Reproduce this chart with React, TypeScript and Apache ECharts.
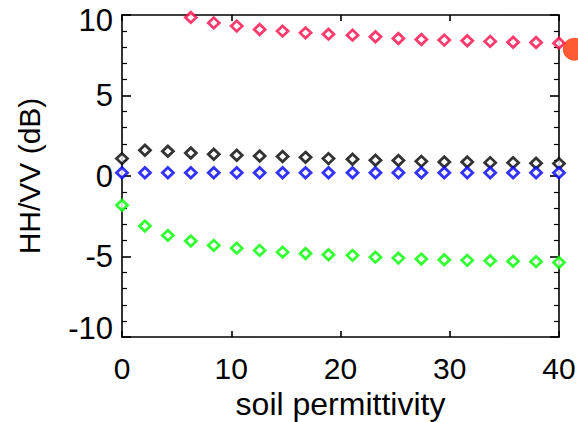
import React, { useEffect, useRef } from "react";
import * as echarts from "echarts";

const xValues = [0, 2.1, 4.2, 6.3, 8.4, 10.5, 12.6, 14.7, 16.8, 18.9, 21.1, 23.2, 25.3, 27.4, 29.5, 31.6, 33.7, 35.8, 37.9, 40];
const redValues = [null, null, 10.4, 9.85, 9.51, 9.31, 9.1, 9.0, 8.89, 8.81, 8.75, 8.65, 8.54, 8.48, 8.44, 8.4, 8.36, 8.31, 8.29, 8.25];
const blackValues = [1.08, 1.6, 1.54, 1.43, 1.35, 1.29, 1.24, 1.21, 1.16, 1.08, 1.04, 0.98, 0.96, 0.91, 0.87, 0.87, 0.83, 0.83, 0.79, 0.77];
const blueValues = [0.2, 0.2, 0.2, 0.2, 0.2, 0.2, 0.2, 0.2, 0.2, 0.2, 0.2, 0.2, 0.2, 0.2, 0.2, 0.2, 0.2, 0.2, 0.2, 0.2];
const greenValues = [-1.82, -3.11, -3.69, -4.04, -4.31, -4.48, -4.62, -4.73, -4.81, -4.89, -4.93, -5.04, -5.1, -5.16, -5.2, -5.24, -5.26, -5.3, -5.32, -5.37];
const observed = [41.4, 7.88];
const xTicks = [0, 10, 20, 30, 40];
const yTicks = [-10, -5, 0, 5, 10];

const FONT = "'Liberation Sans Narrow', 'Arial Narrow', 'Liberation Sans', Arial, sans-serif";

function pairs(vals: (number | null)[]) {
  return xValues.map((x, i) => [x, vals[i]]);
}

export default function App() {
  const ref = useRef<HTMLDivElement>(null);
  useEffect(() => {
    if (!ref.current) return;
    const chart = echarts.init(ref.current, null, { renderer: "svg" });
    const lineStyle = { color: "#000", width: 1.6 };
    const labelBase = { fontFamily: FONT, fontSize: 31, color: "#000" };
    const diamond = (name: string, vals: (number | null)[], color: string) => ({
      name,
      type: "scatter",
      data: pairs(vals),
      symbol: "diamond",
      symbolSize: [11, 10.5],
      itemStyle: { color: "#fff", borderColor: color, borderWidth: 2.8 },
      clip: true,
    });
    const yMin = yTicks[0];
    const yMax = yTicks[yTicks.length - 1];
    chart.setOption({
      animation: false,
      grid: { left: 122, right: 19, top: 15, bottom: 85, containLabel: false, outerBoundsMode: "none" },
      xAxis: [
        {
          type: "value",
          min: xTicks[0],
          max: xTicks[xTicks.length - 1],
          interval: 10,
          position: "bottom",
          name: "soil permittivity",
          nameLocation: "middle",
          nameGap: 50,
          nameMoveOverlap: false,
          nameTextStyle: { fontFamily: FONT, fontSize: 32, color: "#000", verticalAlign: "top", lineHeight: 33 },
          axisLine: { show: true, onZero: false, lineStyle },
          axisTick: { show: true, inside: true, length: 6, lineStyle },
          axisLabel: { ...labelBase, fontSize: 30, lineHeight: 30, margin: 16 },
          splitLine: { show: false },
        },
        {
          type: "value",
          min: xTicks[0],
          max: xTicks[xTicks.length - 1],
          interval: 10,
          position: "top",
          axisLine: { show: true, onZero: false, lineStyle },
          axisTick: { show: true, inside: true, length: 6, lineStyle },
          axisLabel: { show: false },
          splitLine: { show: false },
        },
      ],
      yAxis: [
        {
          type: "value",
          min: yMin,
          max: yMax,
          interval: 5,
          position: "left",
          name: "HH/VV (dB)",
          nameLocation: "middle",
          nameRotate: 90,
          nameGap: 78,
          nameMoveOverlap: false,
          nameTextStyle: { fontFamily: FONT, fontSize: 30, color: "#000" },
          axisLine: { show: true, onZero: false, lineStyle },
          axisTick: { show: true, inside: true, length: 9, lineStyle },
          minorTick: { show: true, splitNumber: 5, length: 5, lineStyle: { color: "#000", width: 1.2 } },
          axisLabel: {
            ...labelBase,
            margin: 9,
            formatter: (v: number) => (v === yMax ? "{t|" + v + "}" : v === yMin ? "{b|" + v + "}" : "{n|" + v + "}"),
            rich: {
              t: { ...labelBase, padding: [10, 0, 0, 0] },
              b: { ...labelBase, padding: [0, 0, 18, 0] },
              n: { ...labelBase },
            },
          },
          splitLine: { show: false },
          minorSplitLine: { show: false },
        },
        {
          type: "value",
          min: yMin,
          max: yMax,
          interval: 5,
          position: "right",
          axisLine: { show: true, onZero: false, lineStyle },
          axisTick: { show: true, inside: true, length: 9, lineStyle },
          minorTick: { show: true, splitNumber: 5, length: 5, lineStyle: { color: "#000", width: 1.2 } },
          axisLabel: { show: false },
          splitLine: { show: false },
          minorSplitLine: { show: false },
        },
      ],
      series: [
        diamond("red", redValues, "#ff0a48"),
        diamond("black", blackValues, "#000000"),
        diamond("blue", blueValues, "#0000ff"),
        diamond("green", greenValues, "#00ff00"),
        {
          name: "observed",
          type: "scatter",
          data: [observed],
          symbol: "circle",
          symbolSize: 23,
          itemStyle: { color: "#ff3300" },
          clip: false,
        },
      ],
    });
    return () => chart.dispose();
  }, []);
  return <div ref={ref} style={{ width: 578, height: 422, position: "absolute", left: 0, top: 0 }} />;
}
